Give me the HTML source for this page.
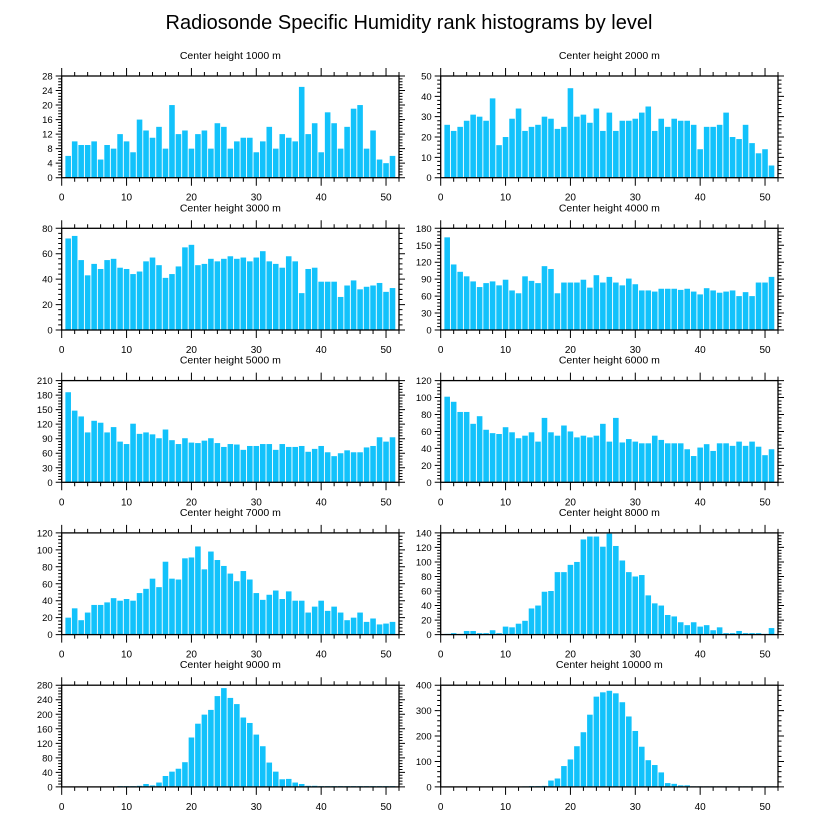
<!DOCTYPE html>
<html><head><meta charset="utf-8">
<style>
html,body{margin:0;padding:0;background:#fff;}
svg{display:block;font-family:"Liberation Sans",sans-serif;}
</style></head>
<body>
<svg id="chart" width="818" height="824" viewBox="0 0 818 824" xmlns="http://www.w3.org/2000/svg">
<text x="409" y="29" text-anchor="middle" font-size="20" fill="#000">Radiosonde Specific Humidity rank histograms by level</text>
</svg>
<script>
const levels = [1000,2000,3000,4000,5000,6000,7000,8000,9000,10000];
const yMaxes = [28,50,80,180,210,120,120,140,280,400];
const ySteps = [4,10,20,30,30,20,20,20,40,100];
const xTicks = [0,10,20,30,40,50];
const h1000 = [6,10,9,9,10,5,9,8,12,10,7,16,13,11,14,8,20,12,13,8,12,13,8,15,14,8,10,11,11,7,10,14,8,12,11,10,25,12,15,7,18,15,8,14,19,20,8,13,5,4,6];
const h2000 = [26,23,25,28,31,30,28,39,16,20,29,34,23,25,26,30,29,24,25,44,30,31,27,34,23,32,23,28,28,29,32,35,23,29,25,29,28,28,26,14,25,25,26,32,20,19,26,17,12,14,6];
const h3000 = [72,74,55,43,52,48,55,56,49,48,44,46,54,57,51,41,44,50,65,67,51,52,56,54,56,58,56,57,54,57,62,54,52,49,58,54,29,48,49,38,38,38,26,35,39,32,34,35,37,30,33];
const h4000 = [164,116,103,95,86,76,83,86,79,89,70,65,95,87,83,113,108,65,84,84,84,89,75,97,84,94,84,79,91,81,70,70,68,73,73,73,71,73,68,63,74,70,66,68,70,60,67,60,84,84,94];
const h5000 = [186,148,136,103,127,123,103,114,84,79,121,100,103,99,91,109,87,79,91,82,81,86,91,81,73,79,78,67,75,75,79,79,67,79,73,73,75,63,69,75,62,54,60,66,62,62,72,75,93,84,93];
const h6000 = [101,95,83,83,69,78,62,58,57,65,59,52,55,59,48,76,59,55,67,60,53,55,53,55,69,48,76,47,51,48,46,46,55,50,46,46,46,39,31,41,45,37,46,46,43,48,43,48,42,32,39];
const h7000 = [20,31,17,26,35,35,38,43,40,42,40,49,54,66,56,86,66,65,90,91,104,77,98,88,81,72,63,75,65,49,41,47,52,42,51,40,40,26,33,40,28,33,26,17,20,26,15,19,12,13,15];
const h8000 = [1,2,1,5,5,2,2,6,2,11,10,15,19,36,40,59,60,86,86,96,100,131,135,135,121,139,122,102,86,80,82,54,43,40,27,25,17,13,17,11,13,6,10,2,2,5,2,2,2,1,9];
const h9000 = [1,1,1,1,1,1,1,1,2,2,2,3,8,4,12,30,42,50,68,136,174,199,212,250,272,245,228,191,176,144,112,67,42,21,22,12,8,3,3,2,2,2,2,2,2,2,2,2,2,2,2];
const h10000 = [1,1,1,1,1,1,1,1,1,1,1,1,2,3,3,4,25,33,82,108,160,215,284,355,372,378,368,333,277,220,158,105,86,57,15,12,6,6,2,2,2,2,2,2,2,2,2,2,2,2,2];
const series = [h1000,h2000,h3000,h4000,h5000,h6000,h7000,h8000,h9000,h10000];

const svg = document.getElementById('chart');
const NS = 'http://www.w3.org/2000/svg';
function mk(tag, attrs, parent){
  const e = document.createElementNS(NS, tag);
  for (const k in attrs) e.setAttribute(k, attrs[k]);
  parent.appendChild(e);
  return e;
}
const XMAX = 52, PW = 337.3, PH = 101.7;
for (let p = 0; p < 10; p++) {
  const col = p % 2, row = Math.floor(p / 2);
  const L = col ? 440.7 : 61.7, T = 76 + row * 152.3;
  const g = mk('g', {}, svg);
  
  
  const xs = v => L + v / XMAX * PW;
  const ys = v => T + PH - v / yMaxes[p] * PH;
  const t = mk('text', {x: L + PW/2, y: T - 17, 'text-anchor':'middle', 'font-size':'10.5'}, g);
  t.textContent = 'Center height ' + levels[p] + ' m';
  
  
  const bw = 0.86 * PW / XMAX;
  series[p].forEach((v, i) => {
    const x = i + 1;
    const r = mk('rect', {x: xs(x) - bw/2, y: ys(v), width: bw, height: ys(0) - ys(v), fill:'#12c2fb'}, g);
    
    
  });
  const fr = mk('rect', {x: L, y: T, width: PW, height: PH, fill:'none', stroke:'#000', 'stroke-width':'1.3'}, g);
  
  
  let d = '';
  for (let v = 0; v <= XMAX; v += 2) {
    const x = xs(v), major = v % 10 === 0, len = major ? 8 : 4;
    d += `M${x},${T}v${-len}M${x},${T+PH}v${len}`;
  }
  const st = ySteps[p], minor = st / 5;
  for (let k = 0; k * minor <= yMaxes[p] + 1e-9; k++) {
    const v = k * minor, y = ys(v), len = (k % 5 === 0) ? 6 : 3.5;
    d += `M${L},${y}h${-len}M${L+PW},${y}h${len}`;
  }
  const tk = mk('path', {d: d, stroke:'#000', 'stroke-width':'1', fill:'none'}, g);
  
  
  xTicks.forEach(v => {
    const lt = mk('text', {x: xs(v), y: T + PH + 23, 'text-anchor':'middle', 'font-size':'10'}, g);
    lt.textContent = v;
    
    
  });
  for (let v = 0; v <= yMaxes[p]; v += st) {
    const lt = mk('text', {x: L - 9, y: ys(v) + 3.5, 'text-anchor':'end', 'font-size':'9.5'}, g);
    lt.textContent = v;
    
    
  }
}
</script>
</body></html>
